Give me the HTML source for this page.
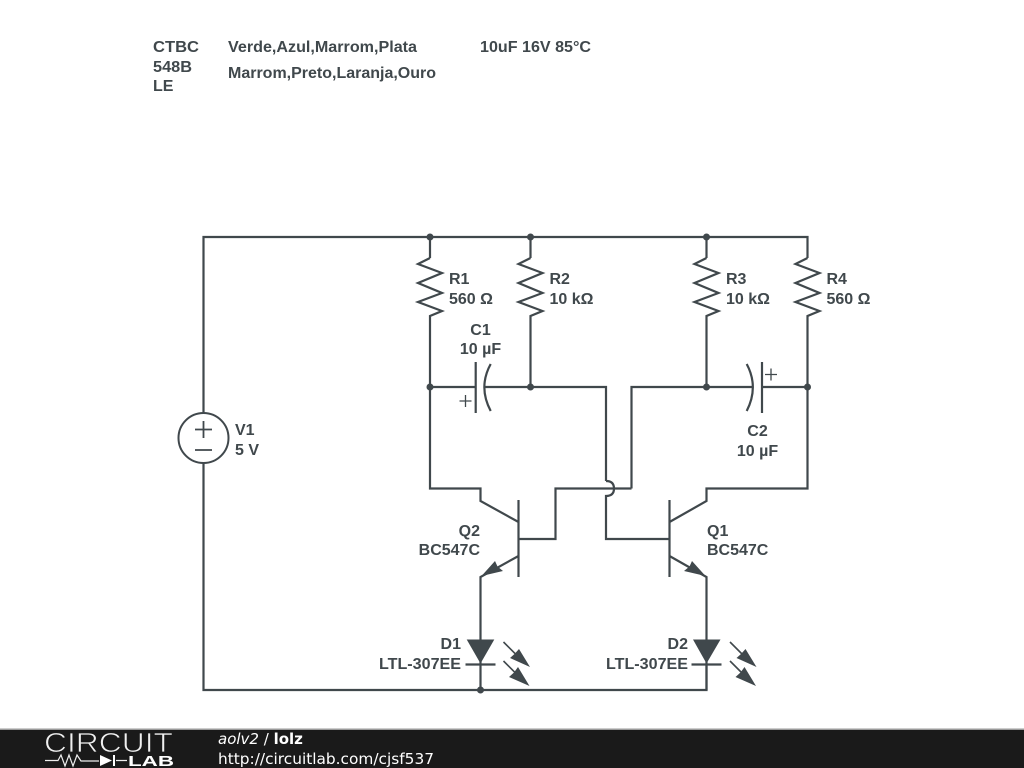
<!DOCTYPE html>
<html>
<head>
<meta charset="utf-8">
<style>
html,body{margin:0;padding:0;background:#fff;width:1024px;height:768px;overflow:hidden}
svg{display:block}
.t{font-family:"Liberation Sans",sans-serif;font-weight:bold;font-size:16px;fill:#40484c}
.w{fill:none;stroke:#40484c;stroke-width:2.2}
.m{fill:none;stroke:#40484c;stroke-width:1.3}
.f{fill:#40484c;stroke:none}
</style>
</head>
<body>
<svg width="1024" height="768" viewBox="0 0 1024 768" xmlns="http://www.w3.org/2000/svg">
<rect width="1024" height="768" fill="#fff"/>

<!-- top notes -->
<text class="t" x="153" y="52" textLength="46" lengthAdjust="spacingAndGlyphs">CTBC</text>
<text class="t" x="153" y="72" textLength="39" lengthAdjust="spacingAndGlyphs">548B</text>
<text class="t" x="153" y="91">LE</text>
<text class="t" x="228" y="52" textLength="189" lengthAdjust="spacingAndGlyphs">Verde,Azul,Marrom,Plata</text>
<text class="t" x="228" y="78" textLength="208" lengthAdjust="spacingAndGlyphs">Marrom,Preto,Laranja,Ouro</text>
<text class="t" x="480" y="52" textLength="111" lengthAdjust="spacingAndGlyphs">10uF 16V 85°C</text>

<!-- main wires -->
<path class="w" d="M203.5 413V237H807.5V258"/>
<path class="w" d="M203.5 463V690H706.5V665"/>
<path class="w" d="M430 237V258M530.5 237V258M706.5 237V258"/>

<!-- resistors -->
<path class="w" d="M430 258L418 264L442 273L418 283L442 293L418 302L442 311L430 316V488.5H480.5V501L518.5 522"/>
<path class="w" d="M530.5 258L518.5 264L542.5 273L518.5 283L542.5 293L518.5 302L542.5 311L530.5 316V387"/>
<path class="w" d="M706.5 258L694.5 264L718.5 273L694.5 283L718.5 293L694.5 302L718.5 311L706.5 316V387"/>
<path class="w" d="M807.5 258L795.5 264L819.5 273L795.5 283L819.5 293L795.5 302L819.5 311L807.5 316V488.5H706.5V501L669.5 522"/>

<!-- C1 -->
<path class="w" d="M430 387H475.5M484 387H606V481"/>
<path class="w" d="M475.7 362V413"/>
<path class="w" d="M490.7 364Q478 387 490.7 411"/>
<path class="m" d="M459.5 401H471.5M465.5 395V407"/>

<!-- C2 -->
<path class="w" d="M631.5 488.5V387H752M762 387H807.5"/>
<path class="w" d="M762 362V413"/>
<path class="w" d="M746.7 364Q759 387 746.7 411"/>
<path class="m" d="M765 374.5H777M771 368.5V380.5"/>

<!-- cross-over -->
<path class="w" d="M518.5 539H555.5V488.5H631.5"/>
<path class="w" d="M606 481C612 481 614 484 614 488.5C614 493 612 496 606 496V539H669.5"/>

<!-- Q2 -->
<path class="w" d="M518.5 500V577"/>
<path class="w" d="M518.5 556L480.5 577V640"/>
<path class="f" d="M481.5 576L495 561L497.5 566.5L503 571Z"/>

<!-- Q1 -->
<path class="w" d="M669.5 500V577"/>
<path class="w" d="M669.5 556L706.5 577V640"/>
<path class="f" d="M705.5 576L692 561L689.5 566.5L684 571Z"/>

<!-- D1 -->
<path class="f" d="M466.7 639.5H494.3L480.5 663.5Z"/>
<path class="w" d="M465.5 664.5H495.5M480.5 660V690"/>
<path class="m" style="stroke-width:1.6" d="M503.5 642L522 660.5M503.5 661L522 679.5"/>
<path class="f" d="M530 667L510 658L514.5 654L519 649ZM529.5 686L509 677L514 672.5L518 667Z"/>

<!-- D2 -->
<path class="f" d="M693 639.5H720.5L706.5 663.5Z"/>
<path class="w" d="M691.5 664.5H721.5M706.5 660V690"/>
<path class="m" style="stroke-width:1.6" d="M730 642L748.5 660.5M730 661L748.5 679.5"/>
<path class="f" d="M756.5 667L736.5 658L741 654L745.5 649ZM756 686L735.5 677L740.5 672.5L744.5 667Z"/>

<!-- V1 -->
<circle cx="203.5" cy="438" r="25" fill="none" stroke="#40484c" stroke-width="2"/>
<path class="w" d="M195 429.5H212M203.5 421V438M195 450H212" style="stroke-width:1.8"/>

<!-- junctions -->
<g class="f">
<circle cx="430" cy="237" r="3.5"/><circle cx="530.5" cy="237" r="3.5"/><circle cx="706.5" cy="237" r="3.5"/>
<circle cx="430" cy="387" r="3.5"/><circle cx="530.5" cy="387" r="3.5"/><circle cx="706.5" cy="387" r="3.5"/><circle cx="807.5" cy="387" r="3.5"/>
<circle cx="480.5" cy="690" r="3.5"/>
</g>

<!-- labels -->
<text class="t" x="449" y="284">R1</text><text class="t" x="449" y="304">560 Ω</text>
<text class="t" x="549.5" y="284">R2</text><text class="t" x="549.5" y="304">10 kΩ</text>
<text class="t" x="726" y="284">R3</text><text class="t" x="726" y="304">10 kΩ</text>
<text class="t" x="826.5" y="284">R4</text><text class="t" x="826.5" y="304">560 Ω</text>
<text class="t" x="480.5" y="335" text-anchor="middle">C1</text><text class="t" x="480.5" y="354" text-anchor="middle">10 µF</text>
<text class="t" x="757.5" y="436" text-anchor="middle">C2</text><text class="t" x="757.5" y="456" text-anchor="middle">10 µF</text>
<text class="t" x="235" y="435">V1</text><text class="t" x="235" y="455">5 V</text>
<text class="t" x="480" y="536" text-anchor="end">Q2</text><text class="t" x="480" y="555" text-anchor="end">BC547C</text>
<text class="t" x="707" y="536">Q1</text><text class="t" x="707" y="555">BC547C</text>
<text class="t" x="461" y="649" text-anchor="end">D1</text><text class="t" x="379" y="669" textLength="82" lengthAdjust="spacingAndGlyphs">LTL-307EE</text>
<text class="t" x="688" y="649" text-anchor="end">D2</text><text class="t" x="606" y="669" textLength="82" lengthAdjust="spacingAndGlyphs">LTL-307EE</text>

<!-- footer -->
<rect x="0" y="729" width="1024" height="39" fill="#1a1a1a"/>
<rect x="0" y="728.5" width="1024" height="1.5" fill="#9a9a9a"/>
<text x="44" y="752" font-family="'Liberation Sans',sans-serif" font-size="27.5" fill="#f0f0f0" stroke="#1a1a1a" stroke-width="0.8" textLength="129" lengthAdjust="spacingAndGlyphs">CIRCUIT</text>
<path d="M45 760.5H58L61 755L65 766L69 755L73 766L77 755L81 761H99M116 760.5H127" fill="none" stroke="#eee" stroke-width="1.2"/>
<path d="M100 755L112 760.5L100 766ZM113 755H115V766H113Z" fill="#fff"/>
<text x="128" y="766" font-family="'Liberation Sans',sans-serif" font-weight="bold" font-size="15" fill="#fff" textLength="46" lengthAdjust="spacingAndGlyphs">LAB</text>
<text x="218" y="744" font-family="'DejaVu Sans',sans-serif" font-size="15" fill="#fff"><tspan font-style="italic">aolv2</tspan> / <tspan font-weight="bold">lolz</tspan></text>
<text x="218" y="764" font-family="'DejaVu Sans',sans-serif" font-size="15" fill="#fff" textLength="216" lengthAdjust="spacingAndGlyphs">http://circuitlab.com/cjsf537</text>
</svg>
</body>
</html>
